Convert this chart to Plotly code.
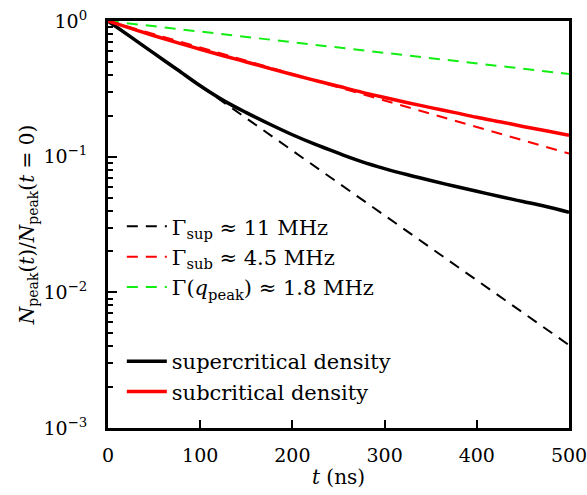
import numpy as np
import plotly.graph_objects as go

# time axis (ns) for the measured curves
t_ns = [0, 25, 50, 75, 100, 125, 150, 175, 200, 225, 250,
        275, 300, 325, 350, 375, 400, 425, 450, 475, 500]

# normalized peak population, supercritical density
n_super = [1.0, 0.760, 0.577, 0.439, 0.333, 0.260, 0.211, 0.174, 0.145, 0.123, 0.106,
           0.0920, 0.0817, 0.0735, 0.0667, 0.0608, 0.0556, 0.0508, 0.0467, 0.0429, 0.0389]

# normalized peak population, subcritical density
n_sub = [1.0, 0.881, 0.778, 0.692, 0.619, 0.555, 0.499, 0.448, 0.403, 0.364, 0.330,
         0.299, 0.273, 0.250, 0.230, 0.212, 0.195, 0.181, 0.167, 0.155, 0.144]

# exponential decay rates (MHz) for the reference lines
rate_labels = ["Γ<sub>sup</sub> ≈ 11 MHz",
               "Γ<sub>sub</sub> ≈ 4.5 MHz",
               "Γ(<i>q</i><sub>peak</sub>) ≈ 1.8 MHz"]
rates_mhz = [11.0, 4.5, 1.8]
rate_colors = ["black", "#ff0000", "#11ee11"]

y_tick_vals = [1e-3, 1e-2, 1e-1, 1e0]
y_tick_text = ["10<sup>−3</sup>", "10<sup>−2</sup>", "10<sup>−1</sup>", "10<sup>0</sup>"]
x_tick_vals = [0, 100, 200, 300, 400, 500]

FONT = "DejaVu Serif"

fig = go.Figure()

t_fit = np.array([0.0, 500.0])
for label, g, c in zip(rate_labels, rates_mhz, rate_colors):
    fig.add_trace(go.Scatter(
        x=t_fit, y=np.exp(-g * 1e6 * t_fit * 1e-9), mode="lines",
        line=dict(color=c, width=2, dash="11px,8px"),
        name=label, legendgroup="fits"))

fig.add_trace(go.Scatter(x=t_ns, y=n_super, mode="lines",
                         line=dict(color="black", width=3.5, shape="spline", smoothing=1),
                         name="supercritical density", legendgroup="data"))
fig.add_trace(go.Scatter(x=t_ns, y=n_sub, mode="lines",
                         line=dict(color="#ff0000", width=3.5, shape="spline", smoothing=1),
                         name="subcritical density", legendgroup="data"))

minor_vals = [k * 10.0 ** p for p in (-3, -2, -1) for k in range(2, 10)]

fig.update_layout(
    width=587, height=495,
    margin=dict(l=108, r=18, t=21, b=67),
    paper_bgcolor="white", plot_bgcolor="white",
    font=dict(family=FONT, size=19, color="black"),
    legend=dict(x=0.03, y=0.545, xanchor="left", yanchor="top",
                bgcolor="rgba(0,0,0,0)", traceorder="grouped",
                tracegroupgap=44, font=dict(family=FONT, size=21),
                itemwidth=40),
    showlegend=True,
)

fig.update_xaxes(
    range=[0, 500], tickvals=x_tick_vals,
    ticks="inside", ticklen=8, tickwidth=2, tickcolor="black",
    showline=True, linewidth=3, linecolor="black", mirror=True,
    showgrid=False, zeroline=False, automargin=False,
    title=dict(text="<i>t</i> (ns)", standoff=6, font=dict(size=20)),
    ticklabelstandoff=8, ticklabeloverflow="allow",
)
fig.update_yaxes(
    type="log", range=[-3, 0],
    tickmode="array", tickvals=y_tick_vals, ticktext=y_tick_text,
    ticks="inside", ticklen=9, tickwidth=2, tickcolor="black",
    minor=dict(tickmode="array", tickvals=minor_vals, ticks="inside",
               ticklen=5, tickwidth=1.5, tickcolor="black", showgrid=False),
    showline=True, linewidth=3, linecolor="black", mirror=True,
    showgrid=False, zeroline=False, automargin=False,
    title=dict(text="<i>N</i><sub>peak</sub>(<i>t</i>)/<i>N</i><sub>peak</sub>(<i>t</i> = 0)",
               standoff=4, font=dict(size=20)),
    ticklabelstandoff=14, ticklabeloverflow="allow",
)

fig.write_html("out.html")
